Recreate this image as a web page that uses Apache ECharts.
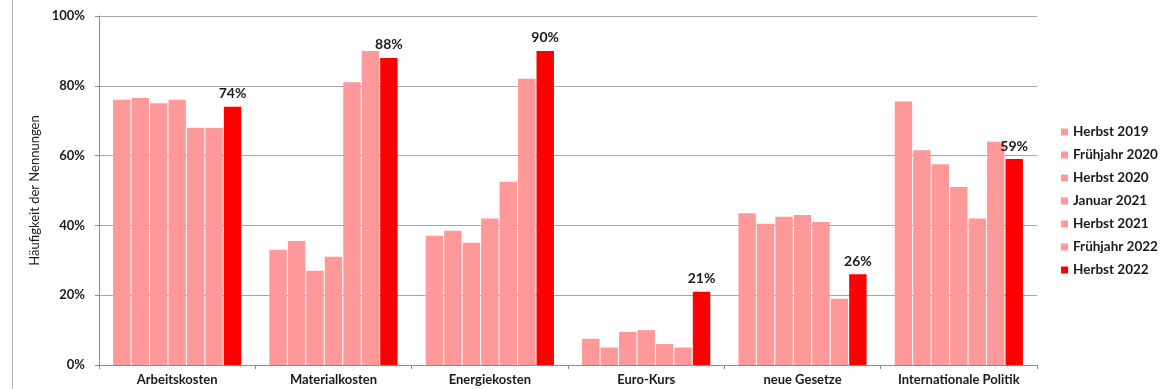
<!DOCTYPE html>
<html>
<head>
<meta charset="utf-8">
<script src="https://cdn.jsdelivr.net/npm/echarts@6/dist/echarts.min.js"></script>
<style>
  html, body { margin: 0; padding: 0; background: #fff; }
  #main { width: 1165px; height: 389px; }
</style>
</head>
<body>
<div id="main"></div>
<script>
var categories = ['Arbeitskosten', 'Materialkosten', 'Energiekosten', 'Euro-Kurs', 'neue Gesetze', 'Internationale Politik'];
var seriesNames = ['Herbst 2019', 'Frühjahr 2020', 'Herbst 2020', 'Januar 2021', 'Herbst 2021', 'Frühjahr 2022', 'Herbst 2022'];

// one array per survey wave, values in %
var herbst2019 = [76, 33, 37, 7.5, 43.5, 75.5];
var fruehjahr2020 = [76.5, 35.5, 38.5, 5, 40.5, 61.5];
var herbst2020 = [75, 27, 35, 9.5, 42.5, 57.5];
var januar2021 = [76, 31, 42, 10, 43, 51];
var herbst2021 = [68, 81, 52.5, 6, 41, 42];
var fruehjahr2022 = [68, 90, 82, 5, 19, 64];
var herbst2022 = [74, 88, 90, 21, 26, 59];

var yTicks = [0, 20, 40, 60, 80, 100];

var allData = [herbst2019, fruehjahr2020, herbst2020, januar2021, herbst2021, fruehjahr2022, herbst2022];
var font = 'Lato, "Open Sans", sans-serif';

var myChart = echarts.init(document.getElementById('main'));
var option = {
    animation: false,
    textStyle: { fontFamily: font },
    graphic: [{
        type: 'line',
        shape: { x1: 12.5, y1: 0, x2: 12.5, y2: 389 },
        style: { stroke: '#b0b0b0', lineWidth: 1 }
    }],
    grid: { left: 99, right: 128, top: 16, bottom: 24, containLabel: false },
    legend: {
        orient: 'vertical',
        left: 1056,
        top: 120,
        itemWidth: 7,
        itemHeight: 7,
        itemGap: 9,
        icon: 'rect',
        textStyle: { fontFamily: font, fontWeight: 'bold', fontSize: 13.5, color: '#1a1a1a' },
        data: seriesNames
    },
    xAxis: {
        type: 'category',
        data: categories,
        axisLine: { lineStyle: { color: '#8c8c8c', width: 1 } },
        axisTick: { show: true, length: 4, lineStyle: { color: '#8c8c8c' } },
        axisLabel: { interval: 0, hideOverlap: false, fontWeight: 'bold', fontSize: 13, color: '#1a1a1a', margin: 8, fontFamily: font }
    },
    yAxis: {
        type: 'value',
        min: yTicks[0],
        max: yTicks[yTicks.length - 1],
        interval: 20,
        name: 'Häufigkeit der Nennungen',
        nameLocation: 'middle',
        nameGap: 54,
        nameTextStyle: { fontSize: 13, color: '#1a1a1a', fontFamily: font },
        axisLine: { show: true, lineStyle: { color: '#8c8c8c' } },
        axisTick: { show: true, length: 4, lineStyle: { color: '#8c8c8c' } },
        axisLabel: { formatter: '{value}%', fontWeight: 'bold', fontSize: 13, color: '#1a1a1a', margin: 14, fontFamily: font },
        splitLine: { lineStyle: { color: '#a6a6a6', width: 1 } }
    },
    series: seriesNames.map(function (name, i) {
        var last = i === seriesNames.length - 1;
        return {
            name: name,
            type: 'bar',
            data: allData[i],
            barGap: '6%',
            barCategoryGap: '18%',
            itemStyle: { color: last ? '#ff0000' : '#ff9999' },
            label: {
                show: last,
                position: 'top',
                formatter: '{c}%',
                fontWeight: 'bold',
                fontSize: 14,
                color: '#1a1a1a',
                fontFamily: font,
                distance: 6
            }
        };
    })
};
myChart.setOption(option);
</script>
</body>
</html>
